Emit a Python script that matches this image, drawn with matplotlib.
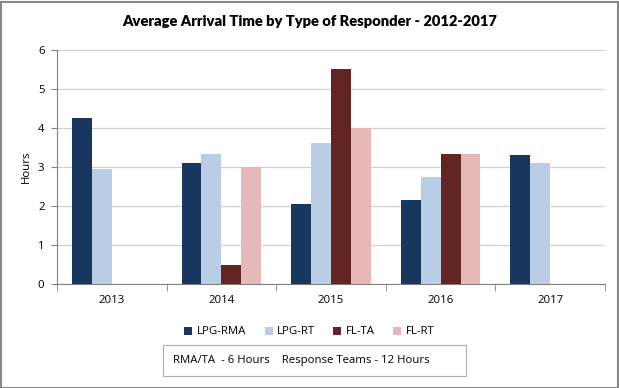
import numpy as np
import matplotlib
matplotlib.use("Agg")
from matplotlib import pyplot as plt
from matplotlib.patches import Rectangle

years = ['2013', '2014', '2015', '2016', '2017']
series = ['LPG-RMA', 'LPG-RT', 'FL-TA', 'FL-RT']
lpg_rma = [4.25, 3.10, 2.05, 2.15, 3.30]
lpg_rt = [2.96, 3.33, 3.61, 2.74, 3.10]
fl_ta = [np.nan, 0.49, 5.51, 3.33, np.nan]
fl_rt = [np.nan, 3.00, 4.00, 3.33, np.nan]
colors = ['#17375E', '#B9CDE5', '#632523', '#E6B9B8']

plt.rcParams['font.family'] = ['Open Sans', 'DejaVu Sans']
fs = 8.2

fig = plt.figure(figsize=(6.19, 3.88), dpi=100)
ax = fig.add_axes([57/619, 1-284/388, 548/619, 234/388])

x = np.arange(len(years))
w = 0.182
for i, (name, vals) in enumerate(zip(series, [lpg_rma, lpg_rt, fl_ta, fl_rt])):
    ax.bar(x + (i - 1.5) * w, vals, width=w, color=colors[i], label=name, zorder=3)

ax.set_xlim(-0.5, len(years) - 0.5)
ax.set_ylim(0, 6)
ax.set_yticks(range(7))
ax.yaxis.grid(True, color='#D0D0D0', linewidth=0.9, zorder=0)
ax.set_xticks(x)
ax.set_xticklabels(years, fontsize=fs)
ax.set_xticks(np.arange(-0.5, len(years)), minor=True)
ax.tick_params(axis='x', which='major', length=0, pad=8)
ax.tick_params(axis='x', which='minor', length=5, color='#808080')
ax.tick_params(axis='y', labelsize=fs, length=4, color='#808080', pad=5)
for s in ['top', 'right']:
    ax.spines[s].set_visible(False)
for s in ['left', 'bottom']:
    ax.spines[s].set_color('#808080')
ax.set_ylabel('Hours', fontsize=fs, labelpad=4)

fig.text(0.5, 1-22/388, 'Average Arrival Time by Type of Responder - 2012-2017',
         ha='center', va='center', fontsize=10.6, fontweight='heavy',
         family=['Lato', 'DejaVu Sans'])

fig.legend(loc='center', bbox_to_anchor=(0.5, 1-332/388), ncol=4, frameon=False,
           fontsize=fs, handlelength=0.7, handleheight=0.7, handletextpad=0.4,
           columnspacing=1.6)

fig.patches.append(Rectangle((163/619, 1-376/388), 303/619, 31/388,
                             transform=fig.transFigure, facecolor='white',
                             edgecolor='#B0B0B0', linewidth=0.8))
fig.text(173/619, 1-361/388, 'RMA/TA  - 6 Hours    Response Teams - 12 Hours',
         ha='left', va='center', fontsize=fs)

fig.patches.append(Rectangle((0.5/619, 0.5/388), 617/619, 386/388,
                             transform=fig.transFigure, facecolor='none',
                             edgecolor='#888888', linewidth=1.5))

fig.savefig('out.png', dpi=100)
